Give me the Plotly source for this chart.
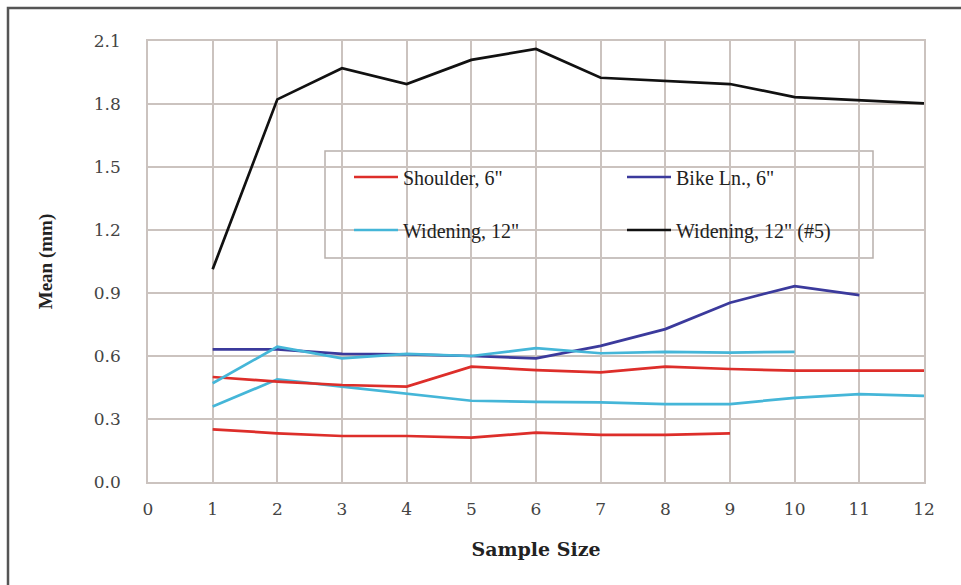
import plotly.graph_objects as go

sample_size = list(range(1, 13))

shoulder_a = [0.50, 0.478, 0.462, 0.454, 0.549, 0.533, 0.522, 0.549, 0.538, 0.530, 0.530, 0.530]
shoulder_b = [0.251, 0.232, 0.219, 0.219, 0.211, 0.235, 0.224, 0.224, 0.232]
bike_ln = [0.632, 0.632, 0.610, 0.608, 0.600, 0.589, 0.648, 0.728, 0.854, 0.933, 0.890]
widening_a = [0.470, 0.644, 0.589, 0.610, 0.600, 0.637, 0.613, 0.620, 0.616, 0.620]
widening_b = [0.359, 0.489, 0.454, 0.422, 0.387, 0.382, 0.379, 0.371, 0.371, 0.401, 0.418, 0.410]
widening_5 = [1.013, 1.822, 1.970, 1.895, 2.010, 2.062, 1.925, 1.910, 1.895, 1.833, 1.817, 1.803]

y_ticks = [0.0, 0.3, 0.6, 0.9, 1.2, 1.5, 1.8, 2.1]
x_ticks = list(range(0, 13))

RED = "#dd2e2a"
BLUE = "#3b3a9c"
LBLUE = "#45b6d8"
BLACK = "#111111"
GRID = "#cbc3bf"
SERIF = "Liberation Serif, Times New Roman, serif"
WIDE_SERIF = "DejaVu Serif, serif"

fig = go.Figure()

def add(xs, ys, name, color, show, legend):
    fig.add_trace(go.Scatter(x=xs[:len(ys)], y=ys, mode="lines", name=name,
                             line=dict(color=color, width=2.7),
                             showlegend=show, legend=legend))

add(sample_size, shoulder_b, 'Shoulder, 6"', RED, False, "legend")
add(sample_size, widening_b, 'Widening, 12"', LBLUE, False, "legend2")
add(sample_size, shoulder_a, 'Shoulder, 6"', RED, True, "legend")
add(sample_size, bike_ln, 'Bike Ln., 6"', BLUE, True, "legend")
add(sample_size, widening_a, 'Widening, 12"', LBLUE, True, "legend2")
add(sample_size, widening_5, 'Widening, 12" (#5)', BLACK, True, "legend2")

L, R, T, B = 148, 37, 41, 103
W, H = 961, 585
pw, ph = W - L - R, H - T - B

def px(x):
    return (x - L) / pw

def py(y):
    return (H - B - y) / ph

leg_common = dict(orientation="h", bgcolor="rgba(0,0,0,0)", borderwidth=0,
                  font=dict(family=SERIF, size=20, color="#222222"),
                  entrywidth=214, entrywidthmode="pixels",
                  xanchor="left", yanchor="middle", itemwidth=44)

fig.update_layout(
    width=W, height=H,
    margin=dict(l=L, r=R, t=T, b=B),
    paper_bgcolor="white", plot_bgcolor="white",
    font=dict(family=SERIF, color="#333333"),
    legend=dict(x=px(349), y=py(177), **leg_common),
    legend2=dict(x=px(349), y=py(230), **leg_common),
    xaxis=dict(range=[0, 12], tickvals=x_ticks, ticktext=[str(v) for v in x_ticks],
               showgrid=True, gridcolor=GRID, gridwidth=1.5,
               showline=True, linecolor=GRID, linewidth=1.5, mirror=True,
               zeroline=False, ticks="", ticklabelstandoff=11,
               tickfont=dict(family=WIDE_SERIF, size=17, color="#444444"),
               title=dict(text="<b>Sample Size</b>", standoff=25,
                          font=dict(family=WIDE_SERIF, size=19, color="#222222"))),
    yaxis=dict(range=[0, 2.1], tickvals=y_ticks, ticktext=[f"{v:.1f}" for v in y_ticks],
               showgrid=True, gridcolor=GRID, gridwidth=1.5,
               showline=True, linecolor=GRID, linewidth=1.5, mirror=True,
               zeroline=False, ticks="", ticklabelstandoff=22,
               tickfont=dict(family=WIDE_SERIF, size=17, color="#444444"),
               title=dict(text="<b>Mean (mm)</b>", standoff=36,
                          font=dict(family=SERIF, size=19, color="#222222"))),
    shapes=[
        dict(type="rect", xref="paper", yref="paper",
             x0=px(325), x1=px(873), y0=py(258), y1=py(151),
             fillcolor="white", line=dict(color="#b8b0ac", width=1.5), layer="between"),
        dict(type="rect", xref="paper", yref="paper",
             x0=px(8), x1=px(990), y0=py(620), y1=py(8),
             fillcolor="rgba(0,0,0,0)", line=dict(color="#555555", width=2.5), layer="above"),
    ],
)

fig.write_html("out.html", config={"displayModeBar": False},
               post_script="document.body.style.margin='0';document.body.style.overflow='hidden';")
